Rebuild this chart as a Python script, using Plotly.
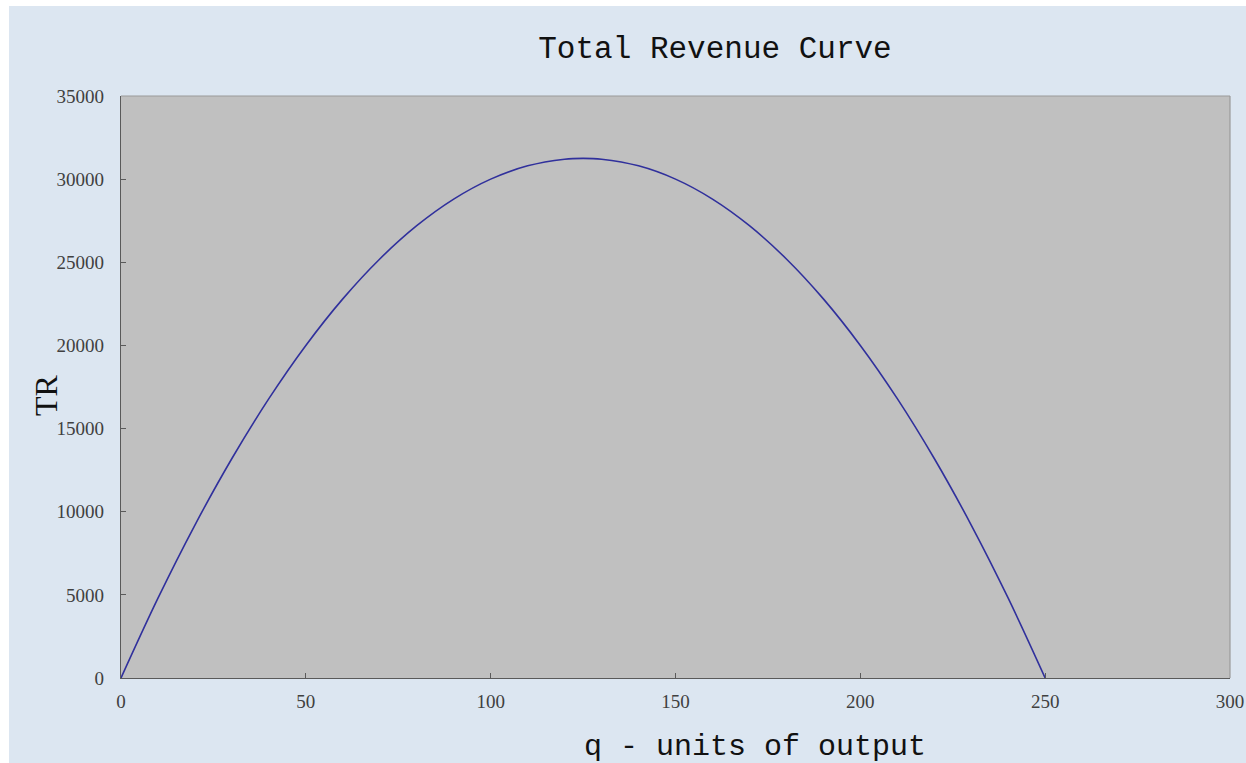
import plotly.graph_objects as go

q_values = [0, 10, 20, 30, 40, 50, 60, 70, 80, 90, 100, 110, 120, 125,
            130, 140, 150, 160, 170, 180, 190, 200, 210, 220, 230, 240, 250]
tr_values = [0, 4800, 9200, 13200, 16800, 20000, 22800, 25200, 27200, 28800,
             30000, 30800, 31200, 31250, 31200, 30800, 30000, 28800, 27200,
             25200, 22800, 20000, 16800, 13200, 9200, 4800, 0]

x_ticks = [0, 50, 100, 150, 200, 250, 300]
y_ticks = [0, 5000, 10000, 15000, 20000, 25000, 30000, 35000]

title_text = "Total Revenue Curve"
x_title = "q - units of output"
y_title = "TR"

W, H = 1246, 763
L, R, T, B = 121, 16, 96, 85
pw, ph = W - L - R, H - T - B

def px(xp):
    return (xp - L) / pw

def py(yp):
    return (H - B - yp) / ph

fig = go.Figure()
fig.add_trace(go.Scatter(
    x=q_values, y=tr_values, mode="lines",
    line=dict(color="#30309c", width=1.6, shape="spline"),
    showlegend=False, hoverinfo="x+y",
))

serif = "Liberation Serif, Times New Roman, serif"
mono = "Liberation Mono, Courier New, monospace"

axis_common = dict(
    showline=True, linecolor="#5a5a5a", linewidth=1.2, mirror=False,
    ticks="inside", ticklen=5, tickcolor="#5a5a5a", tickwidth=1,
    showgrid=False, zeroline=False, automargin=False,
    tickfont=dict(family=serif, size=19, color="#404040"),
)

fig.update_xaxes(range=[0, 300], tickvals=x_ticks, ticktext=[str(v) for v in x_ticks],
                 ticklabelstandoff=6, ticklabeloverflow="allow", **axis_common)
fig.update_yaxes(range=[0, 35000], tickvals=y_ticks, ticktext=[str(v) for v in y_ticks],
                 ticklabelstandoff=12, **axis_common)

fig.update_layout(
    width=W, height=H, autosize=False,
    margin=dict(l=L, r=R, t=T, b=B, autoexpand=False),
    paper_bgcolor="#dce6f1",
    plot_bgcolor="#c0c0c0",
    title=dict(text=title_text, x=715 / W, xref="container", xanchor="center",
               y=1 - 47 / H, yref="container", yanchor="middle",
               font=dict(family=mono, size=31, color="#111111")),
    annotations=[
        dict(text=x_title, xref="paper", yref="paper", x=px(755), y=py(747),
             xanchor="center", yanchor="middle", showarrow=False,
             font=dict(family=mono, size=30, color="#111111")),
        dict(text=y_title, xref="paper", yref="paper", x=px(46), y=py(395),
             xanchor="center", yanchor="middle", showarrow=False, textangle=-90,
             font=dict(family=serif, size=32, color="#111111")),
    ],
    shapes=[
        dict(type="line", xref="paper", yref="paper", x0=0, x1=1, y0=1, y1=1,
             line=dict(color="#9a9a9a", width=1.2), layer="above"),
        dict(type="line", xref="paper", yref="paper", x0=1, x1=1, y0=0, y1=1,
             line=dict(color="#9a9a9a", width=1.2), layer="above"),
        dict(type="rect", xref="paper", yref="paper", x0=px(0), x1=px(W + 20),
             y0=py(6), y1=py(0), fillcolor="white", line=dict(width=0), layer="above"),
        dict(type="rect", xref="paper", yref="paper", x0=px(0), x1=px(9),
             y0=py(H), y1=py(0), fillcolor="white", line=dict(width=0), layer="above"),
    ],
)

fig.write_html(
    "out.html",
    config={"displayModeBar": False, "responsive": False},
    post_script=(
        "document.body.style.margin='0';document.body.style.overflow='hidden';"
        "document.documentElement.style.background='linear-gradient(to bottom, #ffffff 6px, #dce6f1 6px)';"
        "document.body.style.background='linear-gradient(to bottom, #ffffff 6px, #dce6f1 6px)';"
    ),
)
